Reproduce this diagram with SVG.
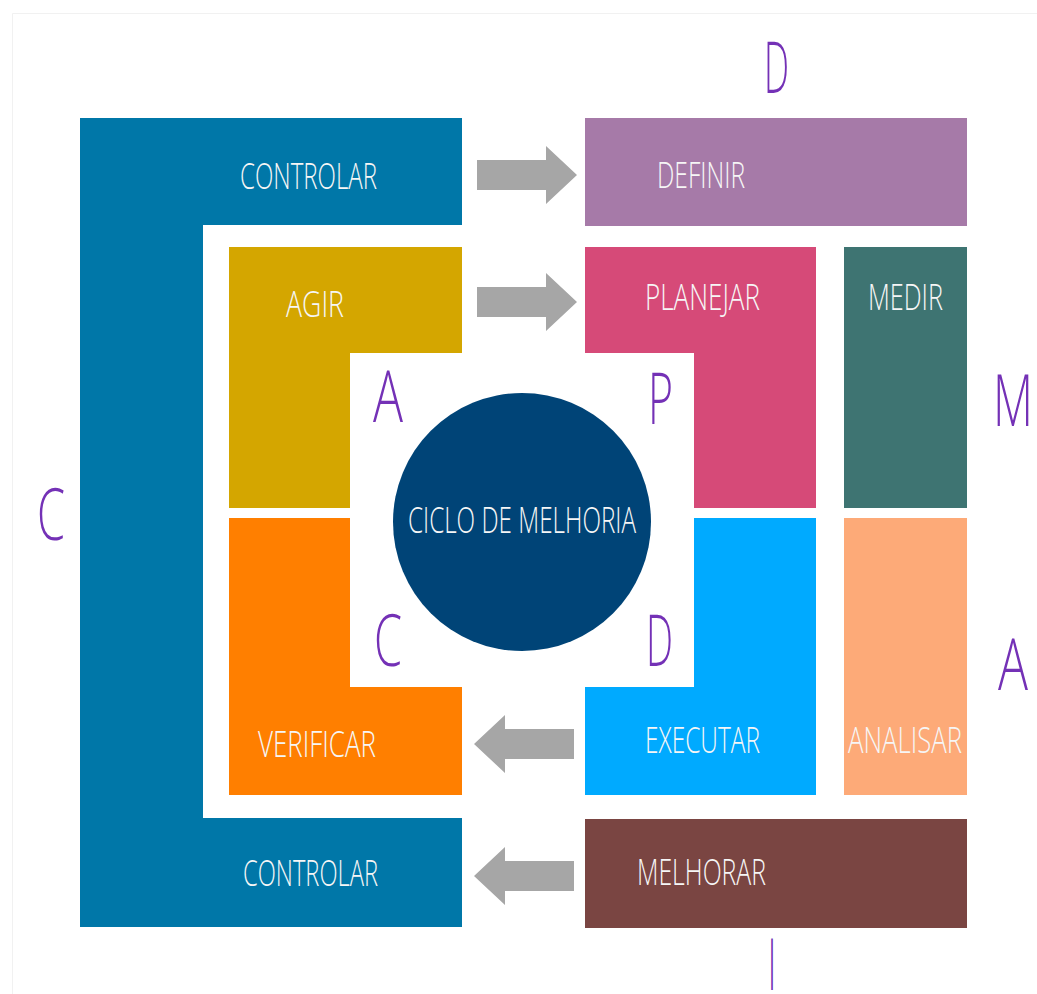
<svg xmlns="http://www.w3.org/2000/svg" width="1037" height="994" viewBox="0 0 1037 994">
  <style>
    .lbl { font-family: "Open Sans", "Liberation Sans", sans-serif; font-weight: 300; font-size: 36px; fill: #f6f6f6; }
    .ltr { font-family: "Open Sans", "Liberation Sans", sans-serif; font-weight: 300; font-size: 72px; fill: #7431b6; }
    .arrow { fill: #a6a6a6; }
  </style>
  <defs>
    <!-- block arrow pointing right, tip at origin -->
    <path id="arrowR" d="M-100,-15 H-31 V-29 L0,0 L-31,29 V15 H-100 Z"/>
  </defs>

  <rect width="1037" height="994" fill="#ffffff"/>
  <path d="M12.5,994 V13.5 H1037" fill="none" stroke="#f1f1f1" stroke-width="1"/>

  <!-- outer C frame -->
  <g id="controlar">
    <path d="M80,118 H462 V225 H203 V818 H462 V927 H80 Z" fill="#0077a8"/>
    <text class="lbl" x="240" y="189" textLength="137" lengthAdjust="spacingAndGlyphs">CONTROLAR</text>
    <text class="lbl" x="243" y="886" textLength="135" lengthAdjust="spacingAndGlyphs">CONTROLAR</text>
  </g>

  <g id="definir">
    <rect x="585" y="118" width="382" height="108" fill="#a67aa8"/>
    <text class="lbl" x="657" y="188" textLength="88" lengthAdjust="spacingAndGlyphs">DEFINIR</text>
  </g>

  <g id="agir">
    <path d="M229,247 H462 V353 H350 V508 H229 Z" fill="#d4a600"/>
    <text class="lbl" x="286" y="317" textLength="58" lengthAdjust="spacingAndGlyphs">AGIR</text>
  </g>

  <g id="planejar">
    <path d="M585,247 H816 V508 H694 V353 H585 Z" fill="#d64a78"/>
    <text class="lbl" x="645" y="310" textLength="115" lengthAdjust="spacingAndGlyphs">PLANEJAR</text>
  </g>

  <g id="medir">
    <rect x="844" y="247" width="123" height="261" fill="#3e7472"/>
    <text class="lbl" x="868" y="310" textLength="75" lengthAdjust="spacingAndGlyphs">MEDIR</text>
  </g>

  <g id="verificar">
    <path d="M229,518 H350 V687 H462 V795 H229 Z" fill="#ff7f00"/>
    <text class="lbl" x="258" y="757" textLength="118" lengthAdjust="spacingAndGlyphs">VERIFICAR</text>
  </g>

  <g id="executar">
    <path d="M694,518 H816 V795 H585 V687 H694 Z" fill="#00aaff"/>
    <text class="lbl" x="645" y="753" textLength="115" lengthAdjust="spacingAndGlyphs">EXECUTAR</text>
  </g>

  <g id="analisar">
    <rect x="844" y="518" width="123" height="277" fill="#fdaa78"/>
    <text class="lbl" x="848" y="753" textLength="114" lengthAdjust="spacingAndGlyphs">ANALISAR</text>
  </g>

  <g id="melhorar">
    <rect x="585" y="819" width="382" height="109" fill="#7a4542"/>
    <text class="lbl" x="637" y="885" textLength="129" lengthAdjust="spacingAndGlyphs">MELHORAR</text>
  </g>

  <g id="ciclo">
    <circle cx="522" cy="522" r="129" fill="#004477"/>
    <text class="lbl" x="408" y="533" textLength="228" lengthAdjust="spacingAndGlyphs" font-size="41">CICLO DE MELHORIA</text>
  </g>

  <!-- PDCA letters around the circle -->
  <g id="pdca">
    <text class="ltr" x="373" y="422" textLength="30" lengthAdjust="spacingAndGlyphs">A</text>
    <text class="ltr" x="648" y="424" textLength="25" lengthAdjust="spacingAndGlyphs">P</text>
    <text class="ltr" x="374" y="666" textLength="28" lengthAdjust="spacingAndGlyphs">C</text>
    <text class="ltr" x="646" y="666" textLength="27" lengthAdjust="spacingAndGlyphs">D</text>
  </g>

  <!-- DMAIC letters around the frame -->
  <g id="dmaic">
    <text class="ltr" x="764" y="93" textLength="25" lengthAdjust="spacingAndGlyphs">D</text>
    <text class="ltr" x="993" y="426" textLength="40" lengthAdjust="spacingAndGlyphs">M</text>
    <text class="ltr" x="998" y="690" textLength="30" lengthAdjust="spacingAndGlyphs">A</text>
    <text class="ltr" x="768" y="990" textLength="8" lengthAdjust="spacingAndGlyphs">I</text>
    <text class="ltr" x="37" y="540" textLength="28" lengthAdjust="spacingAndGlyphs">C</text>
  </g>

  <g id="connectors">
    <use href="#arrowR" class="arrow" transform="translate(577,175)"/>
    <use href="#arrowR" class="arrow" transform="translate(577,302)"/>
    <use href="#arrowR" class="arrow" transform="translate(474,744) scale(-1,1)"/>
    <use href="#arrowR" class="arrow" transform="translate(474,876) scale(-1,1)"/>
  </g>
</svg>
